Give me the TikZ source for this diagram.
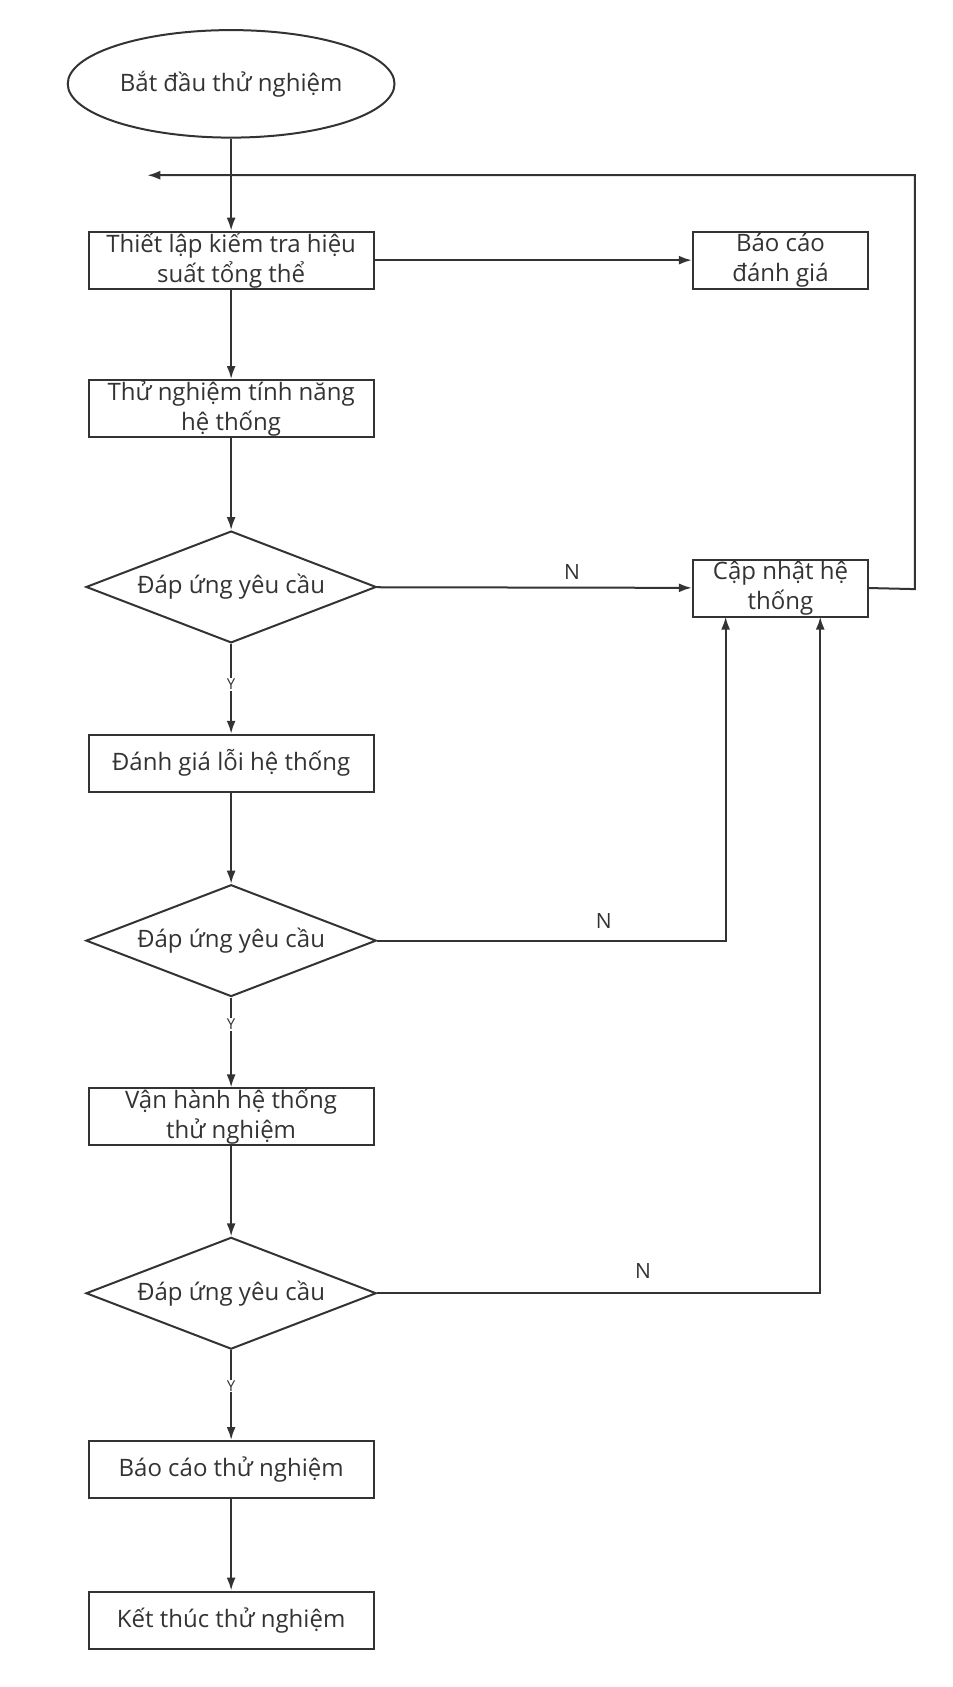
\documentclass[tikz,border=0pt]{standalone}
\usepackage{fontspec}
\setmainfont{Open Sans}
\usetikzlibrary{arrows.meta,shapes.geometric}
\definecolor{ln}{HTML}{333333}
\begin{document}
\begin{tikzpicture}[x=1.075pt,y=-1.075pt,
  every node/.style={font=\fontsize{24}{30}\selectfont,text=ln},
  box/.style={draw=ln,line width=2pt,minimum width=265*1.075pt,minimum height=53*1.075pt,inner sep=0pt,align=center},
  sbox/.style={box,minimum width=163*1.075pt},
  dia/.style={draw=ln,line width=2pt,diamond,aspect=2.6,minimum width=270*1.075pt,minimum height=104*1.075pt,inner sep=0pt},
  arr/.style={draw=ln,line width=2pt,-{Latex[length=13pt,width=9pt]}},
  lab/.style={font=\fontsize{21}{24}\selectfont}]
\useasboundingbox (0,0) rectangle (885.6,1569.3);
\node[draw=ln,line width=2pt,ellipse,minimum width=304*1.075pt,minimum height=100*1.075pt] (s) at (215,78) {Bắt đầu thử nghiệm};
\node[box] (b1) at (215,242) {Thiết lập kiểm tra hiệu\\suất tổng thể};
\node[sbox] (r) at (726,242) {Báo cáo\\đánh giá};
\node[box] (b2) at (215,380) {Thử nghiệm tính năng\\hệ thống};
\node[dia] (d1) at (215,546) {Đáp ứng yêu cầu};
\node[sbox] (u) at (726,547) {Cập nhật hệ\\thống};
\node[box] (b3) at (215,710) {Đánh giá lỗi hệ thống};
\node[dia] (d2) at (215,875) {Đáp ứng yêu cầu};
\node[box] (b4) at (215,1039) {Vận hành hệ thống\\thử nghiệm};
\node[dia] (d3) at (215,1203) {Đáp ứng yêu cầu};
\node[box] (b5) at (215,1367) {Báo cáo thử nghiệm};
\node[box] (b6) at (215,1507) {Kết thúc thử nghiệm};
\coordinate (fb) at (137,163);
\draw[arr] (s) -- (b1);
\draw[arr] (b1) -- (r);
\draw[arr] (b1) -- (b2);
\draw[arr] (b2) -- (d1);
\draw[arr] (d1) -- node[lab,pos=0.45,fill=white,inner sep=1pt,font=\fontsize{15}{16}\selectfont]{Y} (b3);
\draw[arr] (b3) -- (d2);
\draw[arr] (d2) -- node[lab,pos=0.3,fill=white,inner sep=1pt,font=\fontsize{15}{16}\selectfont]{Y} (b4);
\draw[arr] (b4) -- (d3);
\draw[arr] (d3) -- node[lab,pos=0.4,fill=white,inner sep=1pt,font=\fontsize{15}{16}\selectfont]{Y} (b5);
\draw[arr] (b5) -- (b6);
\draw[arr] (d1) -- node[lab,above=4pt,pos=0.62]{N} (u);
\draw[arr] (d2.east) -- (675,875) node[lab,pos=0.65,above=8pt]{N} -- (675,573.6);
\draw[arr] (d3.east) -- (763,1203) node[lab,pos=0.6,above=10pt]{N} -- (763,573.6);
\draw[arr] (u.east) -- (851,548) -- (851,163) -- (fb);
\end{tikzpicture}
\end{document}
